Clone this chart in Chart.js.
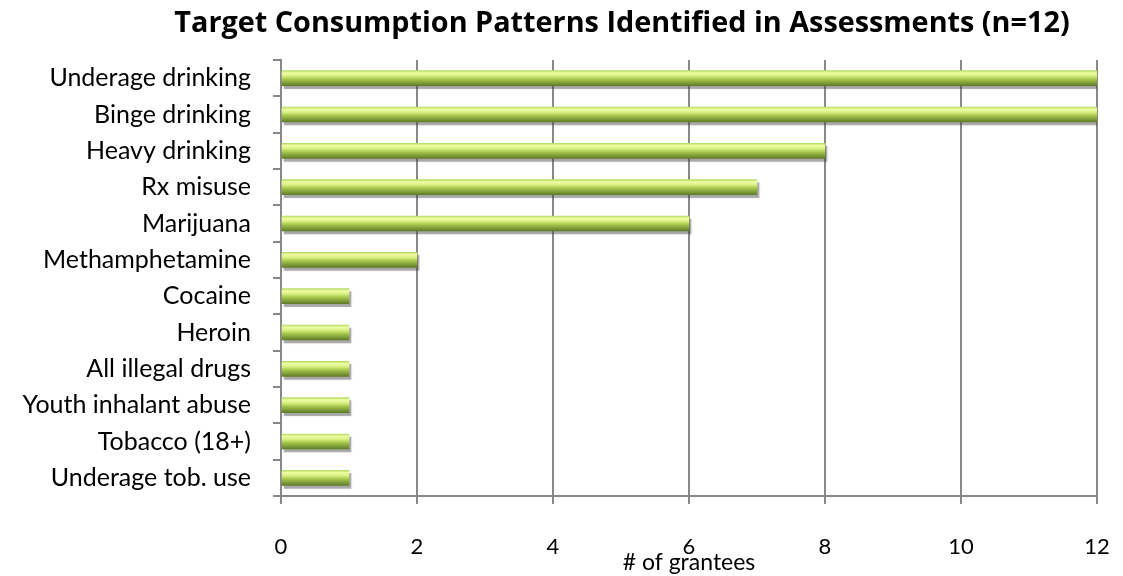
<!DOCTYPE html>
<html>
<head>
<meta charset="utf-8">
<script src="https://cdn.jsdelivr.net/npm/chart.js@4"></script>
<style>
  html, body { margin: 0; padding: 0; background: #fff; }
  #wrap { width: 1123px; height: 576px; }
</style>
</head>
<body>
<div id="wrap"><canvas id="chart" width="1123" height="576"></canvas></div>
<script>
const categories = [
  "Underage drinking", "Binge drinking", "Heavy drinking", "Rx misuse", "Marijuana",
  "Methamphetamine", "Cocaine", "Heroin", "All illegal drugs", "Youth inhalant abuse",
  "Tobacco (18+)", "Underage tob. use"
];
const grantees = [12, 12, 8, 7, 6, 2, 1, 1, 1, 1, 1, 1];
const xTicks = [0, 2, 4, 6, 8, 10, 12];
const titleText = 'Target Consumption Patterns Identified in Assessments (n=12)';

const BAR_H = 15;

function barFill(context) {
  const chart = context.chart;
  const yScale = chart.scales.y;
  if (!chart.chartArea || !yScale) return '#a8c84a';
  const yc = yScale.getPixelForValue(context.dataIndex);
  const g = chart.ctx.createLinearGradient(0, yc - BAR_H / 2, 0, yc + BAR_H / 2);
  g.addColorStop(0, '#b8da68');
  g.addColorStop(0.15, '#effda2');
  g.addColorStop(0.35, '#d9f084');
  g.addColorStop(0.55, '#accb50');
  g.addColorStop(0.8, '#829f3a');
  g.addColorStop(1, '#617c2a');
  return g;
}

const shadowPlugin = {
  id: 'barShadow',
  beforeDatasetsDraw(chart) {
    const c = chart.ctx;
    c.save();
    c.shadowColor = 'rgba(60,60,60,0.45)';
    c.shadowOffsetX = 2;
    c.shadowOffsetY = 3;
    c.shadowBlur = 1;
  },
  afterDatasetsDraw(chart) {
    chart.ctx.restore();
  }
};

// title drawn by hand so it can sit off-centre like the original
const titlePlugin = {
  id: 'offsetTitle',
  afterDraw(chart) {
    const c = chart.ctx;
    c.save();
    let size = 26;
    c.font = 'bold ' + size + 'px "Open Sans"';
    const w = c.measureText(titleText).width;
    size = size * 895 / w;
    c.font = 'bold ' + size.toFixed(1) + 'px "Open Sans"';
    c.fillStyle = '#000';
    c.textAlign = 'center';
    c.textBaseline = 'alphabetic';
    c.fillText(titleText, 622, 32);
    c.restore();
  }
};

new Chart(document.getElementById('chart'), {
  type: 'bar',
  data: {
    labels: categories,
    datasets: [{
      data: grantees,
      backgroundColor: barFill,
      borderWidth: 0,
      barThickness: BAR_H
    }]
  },
  plugins: [shadowPlugin, titlePlugin],
  options: {
    indexAxis: 'y',
    responsive: false,
    animation: false,
    layout: { padding: { left: 0, right: 26, top: 60, bottom: 0 } },
    plugins: {
      legend: { display: false },
      tooltip: { enabled: false },
      title: { display: false }
    },
    scales: {
      x: {
        min: 0,
        max: 12,
        afterBuildTicks(scale) { scale.ticks = xTicks.map(v => ({ value: v })); },
        afterFit(scale) { scale.height = 80; scale.paddingLeft = 0; scale.paddingRight = 0; },
        border: { display: true, color: '#888', width: 2 },
        grid: { color: '#888', lineWidth: 2, tickLength: 8, drawOnChartArea: true },
        ticks: { color: '#000', font: { family: 'Lato', size: 22 }, padding: 30 },
        title: {
          display: true,
          text: '# of grantees',
          color: '#000',
          font: { family: 'Lato', size: 23 },
          padding: { top: 0, bottom: 0 }
        }
      },
      y: {
        afterFit(scale) { scale.width = 281; scale.paddingTop = 0; scale.paddingBottom = 0; },
        border: { display: true, color: '#888', width: 2 },
        grid: { color: '#888', lineWidth: 2, tickLength: 8, offset: true, drawOnChartArea: false },
        ticks: { color: '#000', font: { family: 'Lato', size: 25 }, padding: 22, autoSkip: false }
      }
    }
  }
});
</script>
</body>
</html>
